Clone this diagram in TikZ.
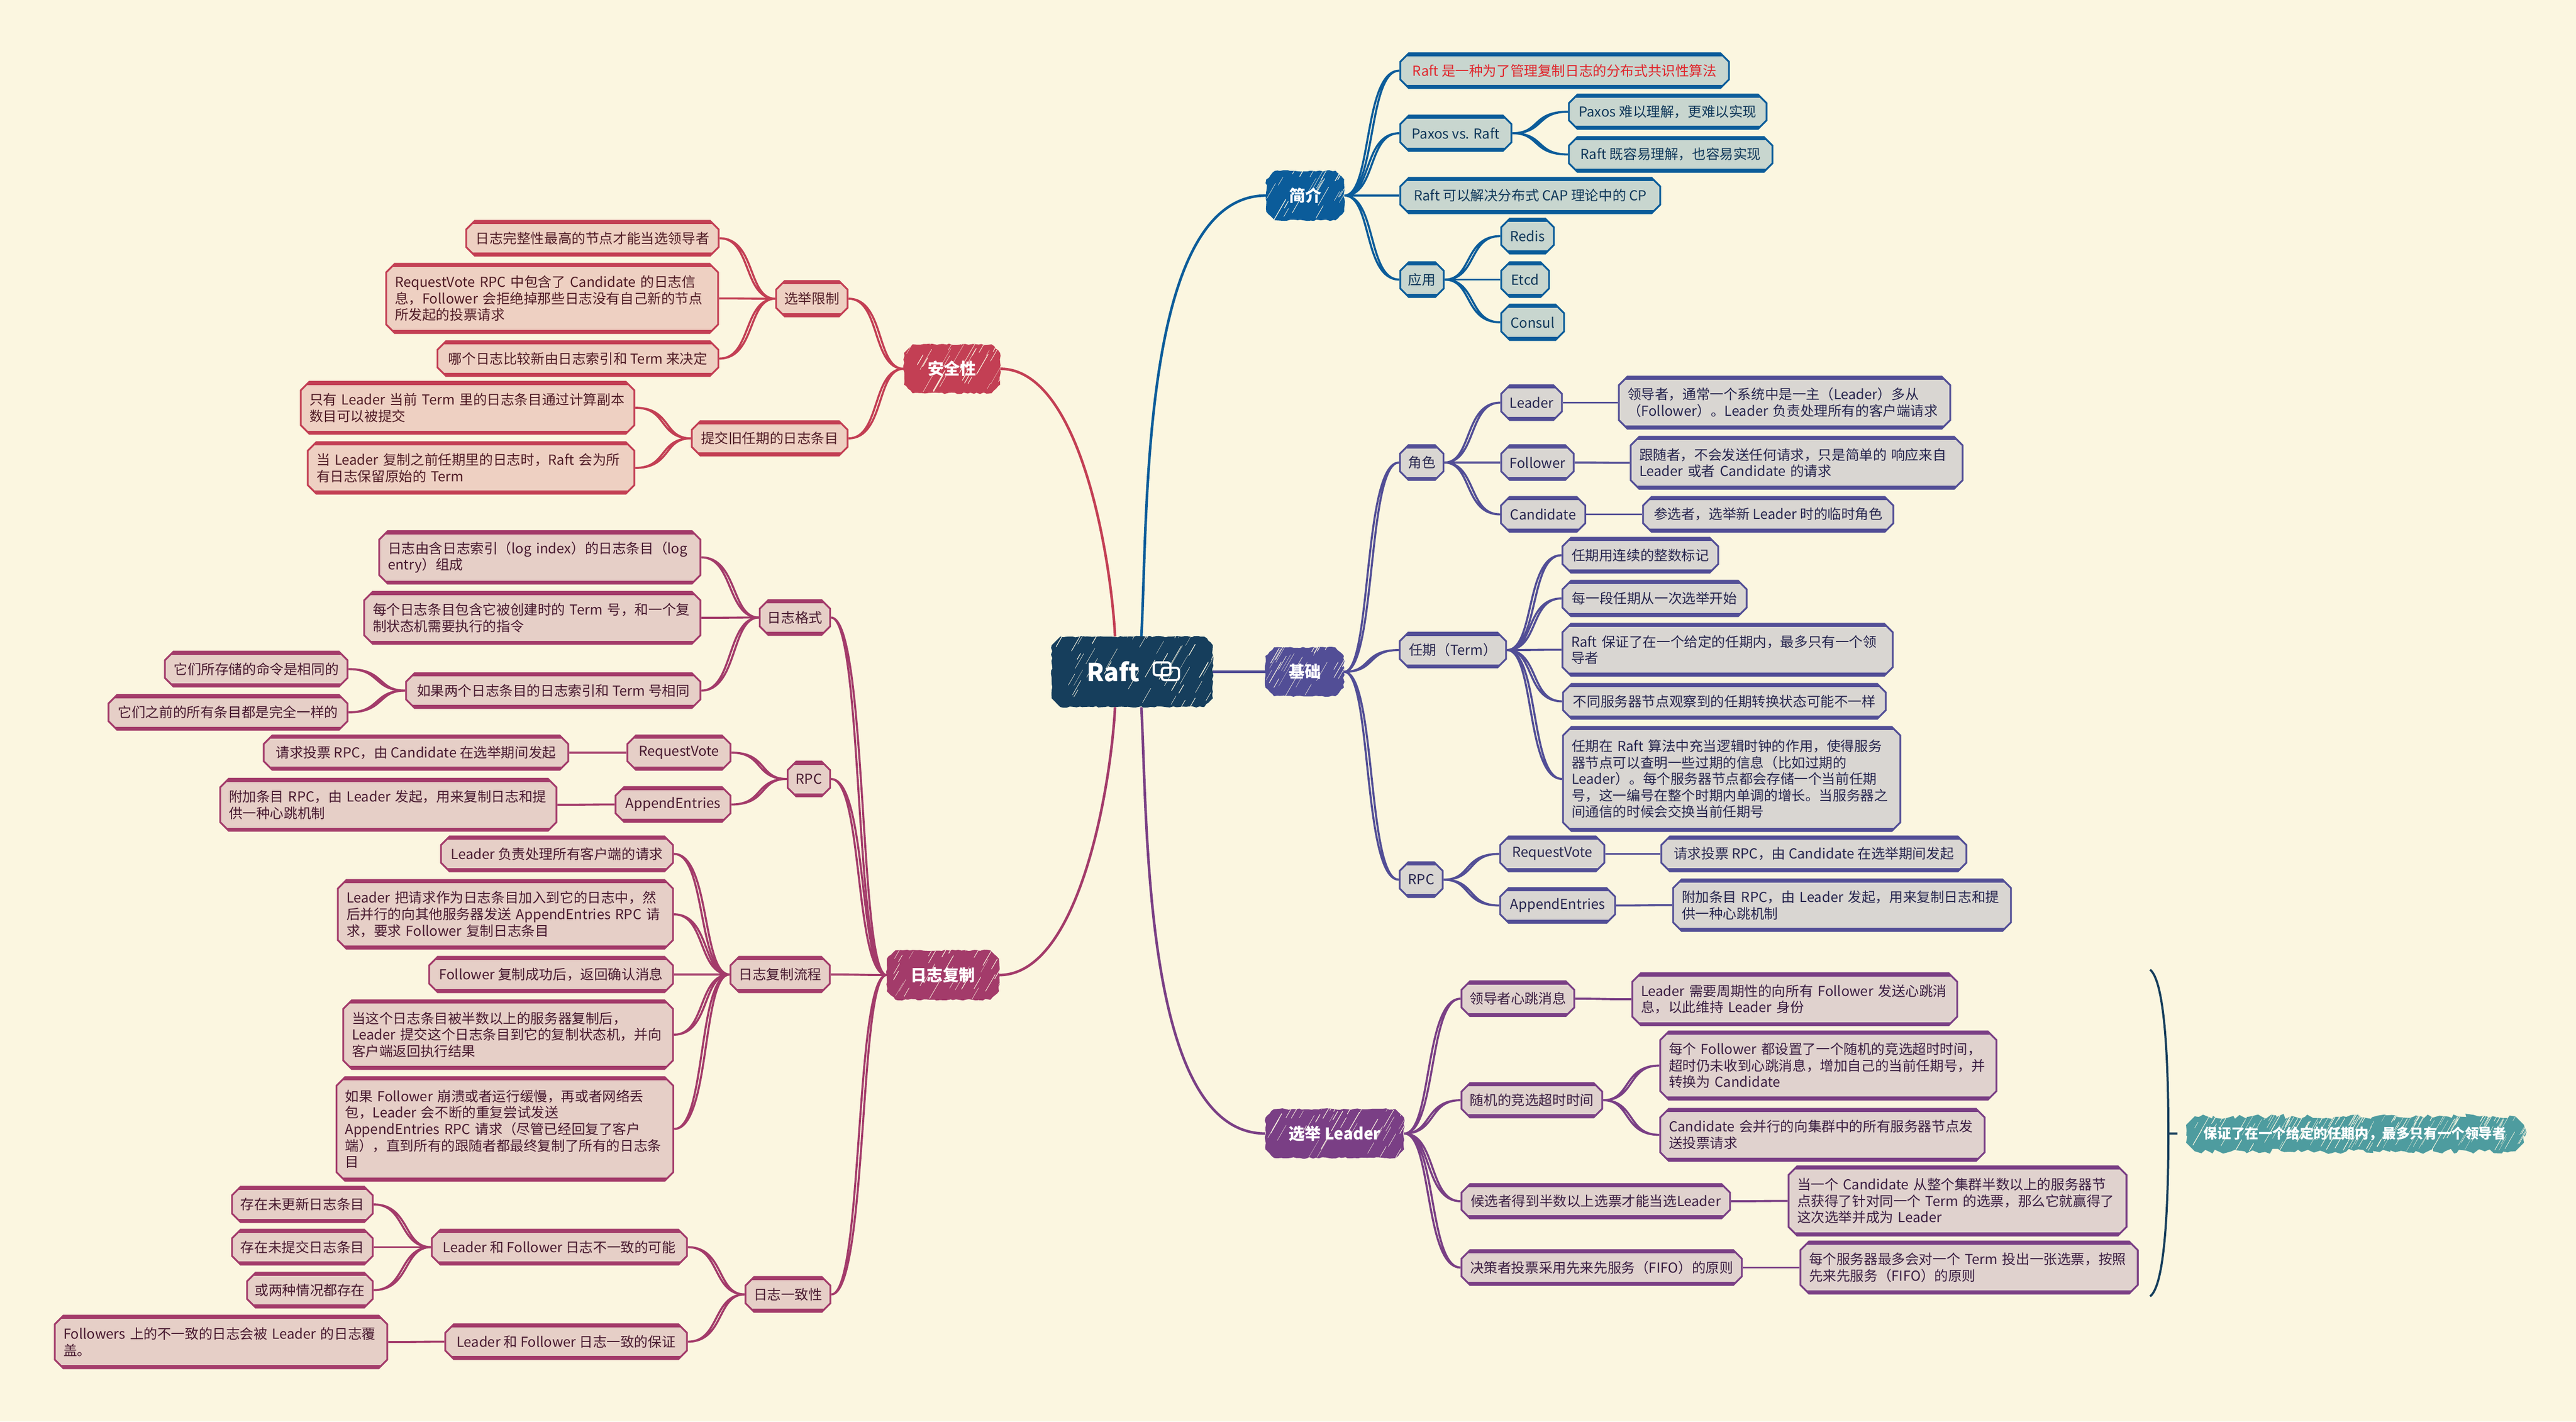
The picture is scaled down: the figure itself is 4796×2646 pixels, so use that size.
\documentclass[tikz,border=0pt]{standalone}
\usepackage{fontspec}
\setmainfont{Noto Sans CJK SC}
\usetikzlibrary{shapes.misc,decorations.pathmorphing}
\definecolor{paper}{HTML}{FBF6E0}
\definecolor{rootc}{HTML}{163E5C}
\definecolor{bluec}{HTML}{0B5C9A}\definecolor{bluef}{HTML}{C8D6CF}\definecolor{bluet}{HTML}{10385A}
\definecolor{purc}{HTML}{524E96}\definecolor{purf}{HTML}{D9D6D2}\definecolor{purt}{HTML}{27264F}
\definecolor{vioc}{HTML}{7A3F85}\definecolor{viof}{HTML}{E0D2CE}\definecolor{viot}{HTML}{3A1E42}
\definecolor{redc}{HTML}{C33F54}\definecolor{redf}{HTML}{EED0C2}\definecolor{redt}{HTML}{501C26}
\definecolor{magc}{HTML}{A33B6A}\definecolor{magf}{HTML}{E6CFC7}\definecolor{magt}{HTML}{481A30}
\definecolor{tealc}{HTML}{4E9C9F}
\definecolor{alert}{HTML}{E0262C}
\newcommand{\leaffont}{\fontsize{12.8}{15.3}\selectfont}
\newcommand{\hatchlines}[3]{\foreach \i in {1,...,#1}{
    \pgfmathsetmacro{\hx}{#2*rand}\pgfmathsetmacro{\hy}{#3*rand}
    \pgfmathsetmacro{\hl}{6+16*rnd}\pgfmathsetmacro{\hw}{0.15+0.5*rnd}
    \draw[paper,line width=\hw pt,line cap=round] ([shift={(\hx pt,\hy pt)}]path picture bounding box.center) -- ++(60:\hl pt);}}
\tikzset{
    leaf/.style n args={3}{shape=chamfered rectangle,chamfered rectangle xsep=4pt,chamfered rectangle ysep=4pt,
        draw=#1,fill=#2,text=#3,line width=1.7pt,inner sep=1pt,align=left,font=\leaffont,
        path picture={\draw[#1,line width=6pt] (path picture bounding box.north west)--(path picture bounding box.north east)
            (path picture bounding box.south west)--(path picture bounding box.south east);}},
    blueleaf/.style={leaf={bluec}{bluef}{bluet}},
    purleaf/.style={leaf={purc}{purf}{purt}},
    violeaf/.style={leaf={vioc}{viof}{viot}},
    redleaf/.style={leaf={redc}{redf}{redt}},
    magleaf/.style={leaf={magc}{magf}{magt}},
    topic/.style n args={4}{shape=chamfered rectangle,chamfered rectangle xsep=4pt,chamfered rectangle ysep=4pt,
        fill=#1,text=white,inner sep=1pt,font=\fontsize{15}{18}\selectfont\bfseries,
        decorate,decoration={random steps,segment length=3pt,amplitude=.7pt},
        path picture={\hatchlines{#2}{#3}{#4}}},
    sz/.style 2 args={minimum width=#1*0.5pt,minimum height=#2*0.5pt},
    szl/.style 2 args={sz={#1}{#2},text width=#1*0.5pt-16pt},
    rt/.style={to path={(\tikztostart) .. controls +(60,0) and +(-60,0) .. (\tikztotarget) (\tikztostart) .. controls +(52,0) and +(-68,0) .. (\tikztotarget)}},
    lf/.style={to path={(\tikztostart) .. controls +(-60,0) and +(60,0) .. (\tikztotarget) (\tikztostart) .. controls +(-52,0) and +(68,0) .. (\tikztotarget)}},
    bluelink/.style={draw=bluec,line width=1.9pt},
    purlink/.style={draw=purc,line width=1.9pt},
    violink/.style={draw=vioc,line width=1.9pt},
    redlink/.style={draw=redc,line width=1.9pt},
    maglink/.style={draw=magc,line width=1.9pt},
}
\begin{document}
\begin{tikzpicture}[x=0.5pt,y=-0.5pt]
    \pgfmathsetseed{17}
    \path[fill=paper,use as bounding box] (0,0) rectangle (4796,2646);

    \node[topic={rootc}{46}{75}{33},sz={300}{131},font=\fontsize{23}{27}\selectfont\bfseries] (root) at (2108,1250.5) {Raft\rule{35pt}{0pt}};
    \draw[white,line width=2pt,rounded corners=2.5pt] (2179,1257) -- (2148,1257) -- (2148,1233) -- (2179,1233) -- cycle (2163,1266) -- (2163,1243) -- (2195,1243) -- (2195,1266) -- cycle;
    \node[topic={bluec}{26}{36}{23},sz={145}{92}] (jj) at (2430,364) {简介};
    \node[topic={purc}{26}{36}{23},sz={146}{91}] (jc) at (2429,1250.5) {基础};
    \node[topic={vioc}{42}{64}{23},sz={258}{91}] (el) at (2485,2110) {选举 Leader};
    \node[topic={redc}{30}{45}{23},sz={179}{91}] (sf) at (1772.5,686.5) {安全性};
    \node[topic={magc}{34}{52}{23},sz={209}{92}] (lr) at (1755.5,1815) {日志复制};
    \node[topic={tealc}{150}{157}{16},sz={629}{65},font=\leaffont\bfseries,decoration={random steps,segment length=4pt,amplitude=2.5pt}] (note) at (4384.5,2110.5) {保证了在一个给定的任期内，最多只有一个领导者};

    \node[blueleaf,sz={612}{65},text=alert] (jjdef) at (2913,131.5) {Raft 是一种为了管理复制日志的分布式共识性算法};
    \node[blueleaf,sz={207}{66}] (pvr) at (2710.5,248) {Paxos vs. Raft};
    \node[blueleaf,sz={368}{64}] (pvpaxos) at (3105,208) {Paxos 难以理解，更难以实现};
    \node[blueleaf,sz={379}{65}] (pvraft) at (3110.5,287.5) {Raft 既容易理解，也容易实现};
    \node[blueleaf,sz={484}{66}] (jjcap) at (2849,364) {Raft 可以解决分布式 CAP 理论中的 CP};
    \node[blueleaf,sz={81}{65}] (jjapp) at (2647.5,520.5) {应用};
    \node[blueleaf,sz={98}{65}] (redis) at (2844,439.5) {Redis};
    \node[blueleaf,sz={89}{65}] (etcd) at (2839.5,520.5) {Etcd};
    \node[blueleaf,sz={117}{66}] (consul) at (2853.5,600) {Consul};

    \node[purleaf,sz={81}{65}] (role) at (2647,861) {角色};
    \node[purleaf,sz={113}{65}] (rleader) at (2851.5,749.5) {Leader};
    \node[purleaf,sz={135}{65}] (rfollower) at (2862.5,861) {Follower};
    \node[purleaf,sz={157}{65}] (rcand) at (2873,957.5) {Candidate};
    \node[purleaf,szl={617}{97}] (dleader) at (3322.5,749.5) {领导者，通常一个系统中是一主（Leader）多从\\（Follower）。Leader 负责处理所有的客户端请求};
    \node[purleaf,szl={618}{97}] (dfollower) at (3345,861.5) {跟随者，不会发送任何请求，只是简单的 响应来自\\Leader 或者 Candidate 的请求};
    \node[purleaf,sz={466}{65}] (dcand) at (3292,957.5) {参选者，选举新 Leader 时的临时角色};
    \node[purleaf,sz={198}{65}] (term) at (2705,1210) {任期（Term）};
    \node[purleaf,sz={290}{65}] (t1) at (3054,1033.5) {任期用连续的整数标记};
    \node[purleaf,sz={343}{66}] (t2) at (3080.5,1114) {每一段任期从一次选举开始};
    \node[purleaf,szl={615}{97}] (t3) at (3216.5,1209.5) {Raft 保证了在一个给定的任期内，最多只有一个领\\导者};
    \node[purleaf,sz={601}{65}] (t4) at (3210.5,1305.5) {不同服务器节点观察到的任期转换状态可能不一样};
    \node[purleaf,szl={628}{194}] (t5) at (3224,1450) {任期在 Raft 算法中充当逻辑时钟的作用，使得服务\\器节点可以查明一些过期的信息（比如过期的\\Leader）。每个服务器节点都会存储一个当前任期\\号，这一编号在整个时期内单调的增长。当服务器之\\间通信的时候会交换当前任期号};
    \node[purleaf,sz={80}{65}] (brpc) at (2646,1637.5) {RPC};
    \node[purleaf,sz={194}{65}] (brv) at (2890,1589.5) {RequestVote};
    \node[purleaf,sz={214}{65}] (bae) at (2900,1685.5) {AppendEntries};
    \node[purleaf,sz={568}{65}] (brvd) at (3377,1589.5) {请求投票 RPC，由 Candidate 在选举期间发起};
    \node[purleaf,szl={629}{96}] (baed) at (3429.5,1685) {附加条目 RPC，由 Leader 发起，用来复制日志和提\\供一种心跳机制};

    \node[violeaf,sz={210}{65}] (eheart) at (2826,1859) {领导者心跳消息};
    \node[violeaf,szl={605}{97}] (eheartd) at (3341.5,1860) {Leader 需要周期性的向所有 Follower 发送心跳消\\息，以此维持 Leader 身份};
    \node[violeaf,sz={262}{64}] (etime) at (2852,2048) {随机的竞选超时时间};
    \node[violeaf,szl={626}{127}] (etimea) at (3404,1983.5) {每个 Follower 都设置了一个随机的竞选超时时间，\\超时仍未收到心跳消息，增加自己的当前任期号，并\\转换为 Candidate};
    \node[violeaf,szl={604}{97}] (etimeb) at (3393,2112.5) {Candidate 会并行的向集群中的所有服务器节点发\\送投票请求};
    \node[violeaf,sz={500}{64}] (emaj) at (2971,2236) {候选者得到半数以上选票才能当选Leader};
    \node[violeaf,szl={629}{129}] (emajd) at (3644.5,2235.5) {当一个 Candidate 从整个集群半数以上的服务器节\\点获得了针对同一个 Term 的选票，那么它就赢得了\\这次选举并成为 Leader};
    \node[violeaf,sz={522}{65}] (efifo) at (2982,2359.5) {决策者投票采用先来先服务（FIFO）的原则};
    \node[violeaf,szl={628}{97}] (efifod) at (3666,2359.5) {每个服务器最多会对一个 Term 投出一张选票，按照\\先来先服务（FIFO）的原则};

    \node[redleaf,sz={133}{66}] (srule) at (1511.5,556) {选举限制};
    \node[redleaf,sz={470}{65}] (sr1) at (1103,443.5) {日志完整性最高的节点才能当选领导者};
    \node[redleaf,szl={618}{129}] (sr2) at (1028,555.5) {RequestVote RPC 中包含了 Candidate 的日志信\\息，Follower 会拒绝掉那些日志没有自己新的节点\\所发起的投票请求};
    \node[redleaf,sz={523}{65}] (sr3) at (1076,667.5) {哪个日志比较新由日志索引和 Term 来决定};
    \node[redleaf,sz={290}{64}] (scommit) at (1433,816) {提交旧任期的日志条目};
    \node[redleaf,szl={621}{97}] (sc1) at (870.5,759) {只有 Leader 当前 Term 里的日志条目通过计算副本\\数目可以被提交};
    \node[redleaf,szl={608}{96}] (sc2) at (877,871) {当 Leader 复制之前任期里的日志时，Raft 会为所\\有日志保留原始的 Term};

    \node[magleaf,sz={131}{65}] (fmt) at (1480,1149.5) {日志格式};
    \node[magleaf,szl={598}{98}] (fmt1) at (1005,1037.5) {日志由含日志索引（log index）的日志条目（log\\entry）组成};
    \node[magleaf,szl={626}{97}] (fmt2) at (991,1150) {每个日志条目包含它被创建时的 Term 号，和一个复\\制状态机需要执行的指令};
    \node[magleaf,sz={548}{65}] (fmt3) at (1030,1285.5) {如果两个日志条目的日志索引和 Term 号相同};
    \node[magleaf,sz={340}{65}] (fmt3a) at (477,1245.5) {它们所存储的命令是相同的};
    \node[magleaf,sz={445}{65}] (fmt3b) at (424.5,1326) {它们之前的所有条目都是完全一样的};
    \node[magleaf,sz={79}{65}] (lrpc) at (1506,1450) {RPC};
    \node[magleaf,sz={192}{64}] (lrv) at (1264,1401) {RequestVote};
    \node[magleaf,sz={567}{64}] (lrvd) at (774.5,1401) {请求投票 RPC，由 Candidate 在选举期间发起};
    \node[magleaf,sz={214}{65}] (lae) at (1253,1497.5) {AppendEntries};
    \node[magleaf,szl={626}{97}] (laed) at (723,1498) {附加条目 RPC，由 Leader 发起，用来复制日志和提\\供一种心跳机制};
    \node[magleaf,sz={185}{66}] (flow) at (1452.5,1814) {日志复制流程};
    \node[magleaf,sz={432}{65}] (flow1) at (1037,1589.5) {Leader 负责处理所有客户端的请求};
    \node[magleaf,szl={624}{128}] (flow2) at (941,1702) {Leader 把请求作为日志条目加入到它的日志中，然\\后并行的向其他服务器发送 AppendEntries RPC 请\\求，要求 Follower 复制日志条目};
    \node[magleaf,sz={454}{66}] (flow3) at (1026,1814) {Follower 复制成功后，返回确认消息};
    \node[magleaf,szl={614}{128}] (flow4) at (946,1926) {当这个日志条目被半数以上的服务器复制后，\\Leader 提交这个日志条目到它的复制状态机，并向\\客户端返回执行结果};
    \node[magleaf,szl={627}{193}] (flow5) at (940,2101.5) {如果 Follower 崩溃或者运行缓慢，再或者网络丢\\包，Leader 会不断的重复尝试发送\\AppendEntries RPC 请求（尽管已经回复了客户\\端），直到所有的跟随者都最终复制了所有的日志条\\目};
    \node[magleaf,sz={158}{65}] (cons) at (1467,2409.5) {日志一致性};
    \node[magleaf,sz={475}{65}] (cons1) at (1041.5,2321.5) {Leader 和 Follower 日志不一致的可能};
    \node[magleaf,sz={262}{66}] (cons1a) at (563,2242) {存在未更新日志条目};
    \node[magleaf,sz={262}{65}] (cons1b) at (563,2321.5) {存在未提交日志条目};
    \node[magleaf,sz={234}{65}] (cons1c) at (577,2401.5) {或两种情况都存在};
    \node[magleaf,sz={450}{65}] (cons2) at (1054,2497.5) {Leader 和 Follower 日志一致的保证};
    \node[magleaf,szl={619}{98}] (cons2a) at (411.5,2498) {Followers 上的不一致的日志会被 Leader 的日志覆\\盖。};

    \draw[bluelink,line width=2.4pt] ([xshift=8.5pt]root.north) to[out=87,in=180,looseness=.7] (jj.west);
    \draw[purlink,line width=2.4pt] (root.east) -- (jc.west);
    \draw[violink,line width=2.4pt] ([xshift=8.5pt]root.south) to[out=-87,in=180,looseness=.7] (el.west);
    \draw[redlink,line width=2.4pt] ([xshift=-16pt]root.north) to[out=93,in=0,looseness=.7] (sf.east);
    \draw[maglink,line width=2.4pt] ([xshift=-16pt]root.south) to[out=-93,in=0,looseness=.7] (lr.east);

    \draw[bluelink] (jj.east) to[rt] (jjdef.west);
    \draw[bluelink] (jj.east) to[rt] (pvr.west);
    \draw[bluelink] (jj.east) to[rt] (jjcap.west);
    \draw[bluelink] (jj.east) to[rt] (jjapp.west);
    \draw[bluelink] (pvr.east) to[rt] (pvpaxos.west);
    \draw[bluelink] (pvr.east) to[rt] (pvraft.west);
    \draw[bluelink] (jjapp.east) to[rt] (redis.west);
    \draw[bluelink] (jjapp.east) to[rt] (etcd.west);
    \draw[bluelink] (jjapp.east) to[rt] (consul.west);

    \draw[purlink] (jc.east) to[rt] (role.west);
    \draw[purlink] (jc.east) to[rt] (term.west);
    \draw[purlink] (jc.east) to[rt] (brpc.west);
    \draw[purlink] (role.east) to[rt] (rleader.west);
    \draw[purlink] (role.east) to[rt] (rfollower.west);
    \draw[purlink] (role.east) to[rt] (rcand.west);
    \draw[purlink] (rleader.east) to[rt] (dleader.west);
    \draw[purlink] (rfollower.east) to[rt] (dfollower.west);
    \draw[purlink] (rcand.east) to[rt] (dcand.west);
    \draw[purlink] (term.east) to[rt] (t1.west);
    \draw[purlink] (term.east) to[rt] (t2.west);
    \draw[purlink] (term.east) to[rt] (t3.west);
    \draw[purlink] (term.east) to[rt] (t4.west);
    \draw[purlink] (term.east) to[rt] (t5.west);
    \draw[purlink] (brpc.east) to[rt] (brv.west);
    \draw[purlink] (brpc.east) to[rt] (bae.west);
    \draw[purlink] (brv.east) to[rt] (brvd.west);
    \draw[purlink] (bae.east) to[rt] (baed.west);

    \draw[violink] (el.east) to[rt] (eheart.west);
    \draw[violink] (el.east) to[rt] (etime.west);
    \draw[violink] (el.east) to[rt] (emaj.west);
    \draw[violink] (el.east) to[rt] (efifo.west);
    \draw[violink] (eheart.east) to[rt] (eheartd.west);
    \draw[violink] (etime.east) to[rt] (etimea.west);
    \draw[violink] (etime.east) to[rt] (etimeb.west);
    \draw[violink] (emaj.east) to[rt] (emajd.west);
    \draw[violink] (efifo.east) to[rt] (efifod.west);

    \draw[redlink] (sf.west) to[lf] (srule.east);
    \draw[redlink] (sf.west) to[lf] (scommit.east);
    \draw[redlink] (srule.west) to[lf] (sr1.east);
    \draw[redlink] (srule.west) to[lf] (sr2.east);
    \draw[redlink] (srule.west) to[lf] (sr3.east);
    \draw[redlink] (scommit.west) to[lf] (sc1.east);
    \draw[redlink] (scommit.west) to[lf] (sc2.east);

    \draw[maglink] (lr.west) to[lf] (fmt.east);
    \draw[maglink] (lr.west) to[lf] (lrpc.east);
    \draw[maglink] (lr.west) to[lf] (flow.east);
    \draw[maglink] (lr.west) to[lf] (cons.east);
    \draw[maglink] (fmt.west) to[lf] (fmt1.east);
    \draw[maglink] (fmt.west) to[lf] (fmt2.east);
    \draw[maglink] (fmt.west) to[lf] (fmt3.east);
    \draw[maglink] (fmt3.west) to[lf] (fmt3a.east);
    \draw[maglink] (fmt3.west) to[lf] (fmt3b.east);
    \draw[maglink] (lrpc.west) to[lf] (lrv.east);
    \draw[maglink] (lrpc.west) to[lf] (lae.east);
    \draw[maglink] (lrv.west) to[lf] (lrvd.east);
    \draw[maglink] (lae.west) to[lf] (laed.east);
    \draw[maglink] (flow.west) to[lf] (flow1.east);
    \draw[maglink] (flow.west) to[lf] (flow2.east);
    \draw[maglink] (flow.west) to[lf] (flow3.east);
    \draw[maglink] (flow.west) to[lf] (flow4.east);
    \draw[maglink] (flow.west) to[lf] (flow5.east);
    \draw[maglink] (cons.west) to[lf] (cons1.east);
    \draw[maglink] (cons.west) to[lf] (cons2.east);
    \draw[maglink] (cons1.west) to[lf] (cons1a.east);
    \draw[maglink] (cons1.west) to[lf] (cons1b.east);
    \draw[maglink] (cons1.west) to[lf] (cons1c.east);
    \draw[maglink] (cons2.west) to[lf] (cons2a.east);

    \coordinate (brtop) at (4003,1805);
    \coordinate (brmid) at (4037,2110);
    \coordinate (brend) at (4003,2413);
    \coordinate (brtip) at (4054,2110);
    \draw[rootc,line width=2pt] (brtop) .. controls (4028,1825) and (4037,1950) .. (brmid) .. controls (4037,2270) and (4028,2395) .. (brend);
    \draw[rootc,line width=2pt] (brmid) -- (brtip);
\end{tikzpicture}
\end{document}
